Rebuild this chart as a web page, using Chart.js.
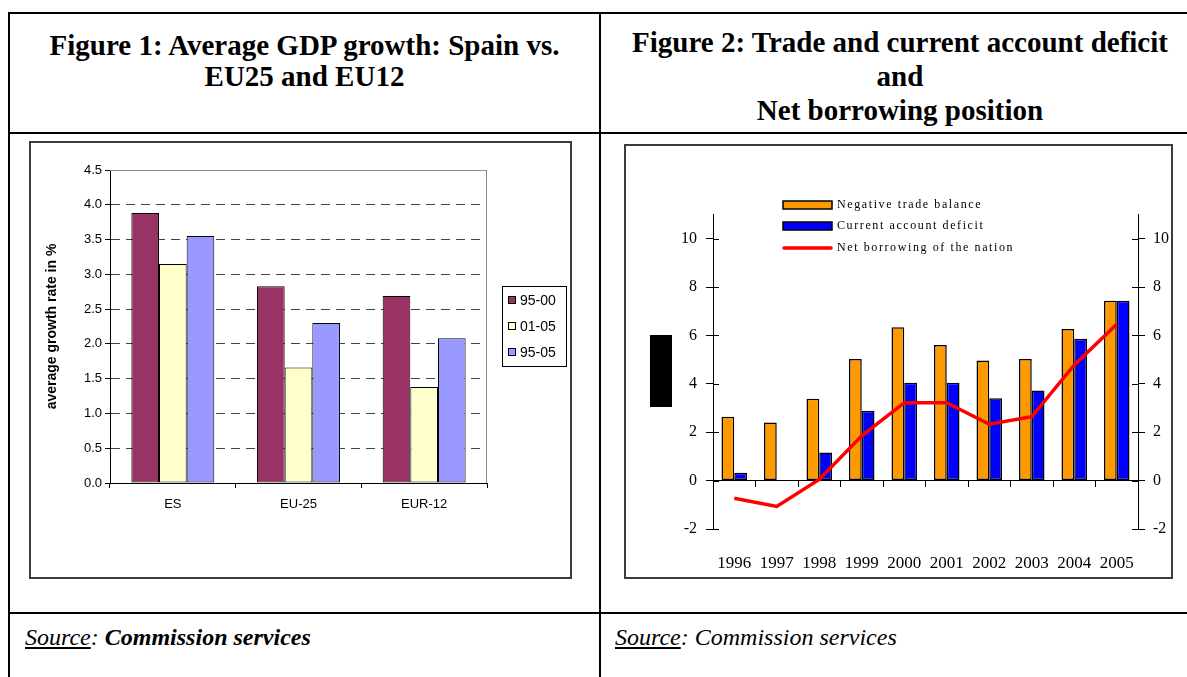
<!DOCTYPE html>
<html>
<head>
<meta charset="utf-8">
<script src="https://cdn.jsdelivr.net/npm/chart.js@4.4.1/dist/chart.umd.min.js"></script>
<style>
  body { margin: 0; width: 1187px; height: 677px; background: #fff; position: relative; overflow: hidden;
         font-family: 'Liberation Serif', 'Times New Roman', serif; color: #000; }
  .rule { position: absolute; background: #000; }
  .title { position: absolute; text-align: center; font-weight: bold; font-size: 29px; white-space: nowrap; }
  .frame { position: absolute; border: 2px solid #3c3c3c; box-sizing: border-box; background: #fff; }
  .frame canvas { display: block; }
  .source { position: absolute; top: 623px; font-size: 24px; line-height: 28px; font-style: italic; white-space: nowrap; }
</style>
</head>
<body>
<!-- table rules -->
<div class="rule" style="left:8px;top:12px;width:1179px;height:2px"></div>
<div class="rule" style="left:8px;top:12px;width:2px;height:665px"></div>
<div class="rule" style="left:599px;top:12px;width:2px;height:665px"></div>
<div class="rule" style="left:8px;top:132px;width:1179px;height:2px"></div>
<div class="rule" style="left:8px;top:612px;width:1179px;height:2px"></div>

<div class="title" style="left:10px;width:589px;top:30px;line-height:31px">Figure 1: Average GDP growth: Spain vs.<br>EU25 and EU12</div>
<div class="title" style="left:601px;width:598px;top:25px;line-height:34px">Figure 2: Trade and current account deficit<br>and<br>Net borrowing position</div>

<div class="frame" style="left:29px;top:141px;width:543px;height:438px">
  <canvas id="growthChart" width="539" height="434"></canvas>
</div>
<div class="frame" style="left:624px;top:144px;width:549px;height:435px">
  <canvas id="balanceChart" width="545" height="431"></canvas>
</div>

<div class="source" style="left:25px"><u>Source</u>: <b>Commission services</b></div>
<div class="source" style="left:615px"><u>Source</u>: Commission services</div>

<script>
// GDP growth by period
const growthCats = ['ES', 'EU-25', 'EUR-12'];
const growthPeriods = ['95-00', '01-05', '95-05'];
const growth9500 = [3.88, 2.83, 2.69];
const growth0105 = [3.15, 1.66, 1.38];
const growth9505 = [3.55, 2.30, 2.08];
const growthTicks = [0, 0.5, 1, 1.5, 2, 2.5, 3, 3.5, 4, 4.5];

// trade / current account / net borrowing, % of GDP
const years = ['1996', '1997', '1998', '1999', '2000', '2001', '2002', '2003', '2004', '2005'];
const tradeBalance = [2.64, 2.40, 3.38, 5.03, 6.34, 5.61, 4.96, 5.03, 6.27, 7.43];
const currentAccount = [0.33, null, 1.16, 2.89, 4.05, 4.05, 3.40, 3.72, 5.86, 7.43];
const netBorrowing = [-0.73, -1.07, 0.05, 1.85, 3.22, 3.22, 2.33, 2.64, 4.78, 6.46];
const balanceTicks = [-2, 0, 2, 4, 6, 8, 10];

const sans = '"Liberation Sans", Arial, sans-serif';
const serif = '"Liberation Serif", "Times New Roman", serif';

// boxed legend on the right of the growth chart
const boxLegend = {
  id: 'boxLegend',
  afterDraw(chart, args, o) {
    const ctx = chart.ctx;
    ctx.save();
    ctx.fillStyle = '#fff';
    ctx.fillRect(o.x, o.y, o.w, o.h);
    ctx.strokeStyle = '#000';
    ctx.lineWidth = 1;
    ctx.strokeRect(o.x + 0.5, o.y + 0.5, o.w - 1, o.h - 1);
    ctx.font = '14px ' + sans;
    ctx.textBaseline = 'middle';
    chart.data.datasets.forEach((ds, i) => {
      const cy = o.y + o.first + i * o.step;
      ctx.fillStyle = ds.backgroundColor;
      ctx.fillRect(o.x + 6, cy - 4, 8, 8);
      ctx.strokeRect(o.x + 6.5, cy - 3.5, 7, 7);
      ctx.fillStyle = '#000';
      ctx.fillText(ds.label, o.x + 18, cy + 1);
    });
    ctx.restore();
  }
};

// grey frame on top and right of the plot area
const plotFrame = {
  id: 'plotFrame',
  beforeDatasetsDraw(chart) {
    const { ctx, chartArea: a } = chart;
    ctx.save();
    ctx.strokeStyle = '#8c8c8c';
    ctx.lineWidth = 1;
    ctx.beginPath();
    ctx.moveTo(a.left, a.top + 0.5);
    ctx.lineTo(a.right - 0.5, a.top + 0.5);
    ctx.lineTo(a.right - 0.5, a.bottom);
    ctx.stroke();
    ctx.restore();
  }
};

new Chart(document.getElementById('growthChart'), {
  type: 'bar',
  data: {
    labels: growthCats,
    datasets: [
      { label: growthPeriods[0], data: growth9500, backgroundColor: '#993366' },
      { label: growthPeriods[1], data: growth0105, backgroundColor: '#FFFFCC' },
      { label: growthPeriods[2], data: growth9505, backgroundColor: '#9999FF' }
    ]
  },
  options: {
    responsive: false,
    animation: false,
    layout: { padding: { left: 10, top: 27, right: 83, bottom: 54 } },
    datasets: {
      bar: { borderColor: '#000', borderWidth: 1, borderSkipped: false, categoryPercentage: 0.66, barPercentage: 1 }
    },
    plugins: {
      legend: { display: false },
      tooltip: { enabled: false },
      boxLegend: { x: 471, y: 143, w: 65, h: 81, first: 14, step: 26 }
    },
    scales: {
      x: {
        offset: true,
        grid: { offset: true, drawOnChartArea: false, tickLength: 5, color: '#000' },
        border: { color: '#000' },
        ticks: { font: { family: sans, size: 13 }, color: '#000', padding: 9 },
        afterFit(s) { s.height = 40; }
      },
      y: {
        min: 0,
        max: 4.5,
        afterBuildTicks(s) { s.ticks = growthTicks.map(v => ({ value: v })); },
        grid: { color: '#444', tickLength: 5, tickColor: '#000' },
        border: { color: '#000', dash: [9, 6] },
        ticks: { callback: v => v.toFixed(1), font: { family: sans, size: 13 }, color: '#000', padding: 3 },
        title: { display: true, text: 'average growth rate in %', color: '#000',
                 font: { family: sans, size: 14, weight: 'bold' }, padding: { top: 3, bottom: 2 } },
        afterFit(s) { s.width = 69; }
      }
    }
  },
  plugins: [plotFrame, boxLegend]
});

// legend of the balance chart: bar entries get a box, the line entry a stroke
const lineLegend = {
  id: 'lineLegend',
  afterDraw(chart, args, o) {
    const ctx = chart.ctx;
    ctx.save();
    ctx.font = '12px ' + serif;
    ctx.letterSpacing = '1.6px';
    ctx.textBaseline = 'middle';
    chart.data.datasets.forEach((ds, i) => {
      const cy = o.y + i * o.step + (ds.type === 'line' ? 1 : 0);
      if (ds.type === 'line') {
        ctx.strokeStyle = ds.borderColor;
        ctx.lineWidth = 3.5;
        ctx.lineCap = 'round';
        ctx.beginPath();
        ctx.moveTo(o.x + 1, cy);
        ctx.lineTo(o.x + o.w - 1, cy);
        ctx.stroke();
      } else {
        ctx.fillStyle = ds.backgroundColor;
        ctx.fillRect(o.x, cy - 4, o.w, 8);
        ctx.strokeStyle = '#000';
        ctx.lineWidth = 1.5;
        ctx.strokeRect(o.x, cy - 4, o.w, 8);
      }
      ctx.fillStyle = '#000';
      ctx.fillText(ds.label, o.x + o.w + 5, cy);
    });
    ctx.restore();
  }
};

// y ticks that cross their axis line, plus the dark tag left of the axis
const crossTicks = {
  id: 'crossTicks',
  afterDraw(chart) {
    const { ctx } = chart;
    const y = chart.scales.y, y2 = chart.scales.y2;
    ctx.save();
    ctx.strokeStyle = '#000';
    ctx.lineWidth = 1;
    ctx.beginPath();
    balanceTicks.forEach(v => {
      const py = Math.round(y.getPixelForValue(v)) + 0.5;
      ctx.moveTo(y.right, py); ctx.lineTo(y.right + 6, py);
      ctx.moveTo(y2.left - 6, py); ctx.lineTo(y2.left, py);
    });
    ctx.stroke();
    ctx.fillStyle = '#000';
    ctx.fillRect(24, 189, 22, 72);
    ctx.restore();
  }
};

const tickFont = { family: serif, size: 16 };

new Chart(document.getElementById('balanceChart'), {
  type: 'bar',
  data: {
    labels: years,
    datasets: [
      { label: 'Negative trade balance', data: tradeBalance, backgroundColor: '#FF9900', order: 2 },
      { label: 'Current account deficit', data: currentAccount, backgroundColor: '#0000FF', order: 2 },
      { type: 'line', label: 'Net borrowing of the nation', data: netBorrowing, borderColor: '#FF0000',
        borderWidth: 3.5, pointRadius: 0, tension: 0, fill: false, order: 1 }
    ]
  },
  options: {
    responsive: false,
    animation: false,
    layout: { padding: { left: 10, top: 68.5, right: 0, bottom: 8 } },
    datasets: {
      bar: { borderColor: '#000', borderWidth: 1.5, borderSkipped: false, categoryPercentage: 0.6, barPercentage: 1 }
    },
    plugins: {
      legend: { display: false },
      tooltip: { enabled: false },
      lineLegend: { x: 157, y: 59, w: 49, step: 21 }
    },
    scales: {
      x: {
        offset: true,
        grid: { display: false },
        border: { display: false },
        ticks: { font: { family: serif, size: 17 }, color: '#000', padding: 16, maxRotation: 0, autoSkip: false },
        afterFit(s) { s.height = 40; }
      },
      x2: {
        type: 'category',
        position: { y: 0 },
        offset: true,
        grid: { offset: true, drawOnChartArea: false, tickLength: 6, color: '#000' },
        border: { color: '#000' },
        ticks: { display: false }
      },
      y: {
        position: 'left',
        min: -2,
        max: 11,
        afterBuildTicks(s) { s.ticks = balanceTicks.map(v => ({ value: v })); },
        grid: { drawOnChartArea: false, tickLength: 7, color: '#000' },
        border: { color: '#000' },
        ticks: { font: tickFont, color: '#000', padding: 9 },
        afterFit(s) { s.width = 77; }
      },
      y2: {
        position: 'right',
        min: -2,
        max: 11,
        afterBuildTicks(s) { s.ticks = balanceTicks.map(v => ({ value: v })); },
        grid: { drawOnChartArea: false, tickLength: 7, color: '#000' },
        border: { color: '#000' },
        ticks: { font: tickFont, color: '#000', padding: 8 },
        afterFit(s) { s.width = 33; }
      }
    }
  },
  plugins: [lineLegend, crossTicks]
});
</script>
</body>
</html>
